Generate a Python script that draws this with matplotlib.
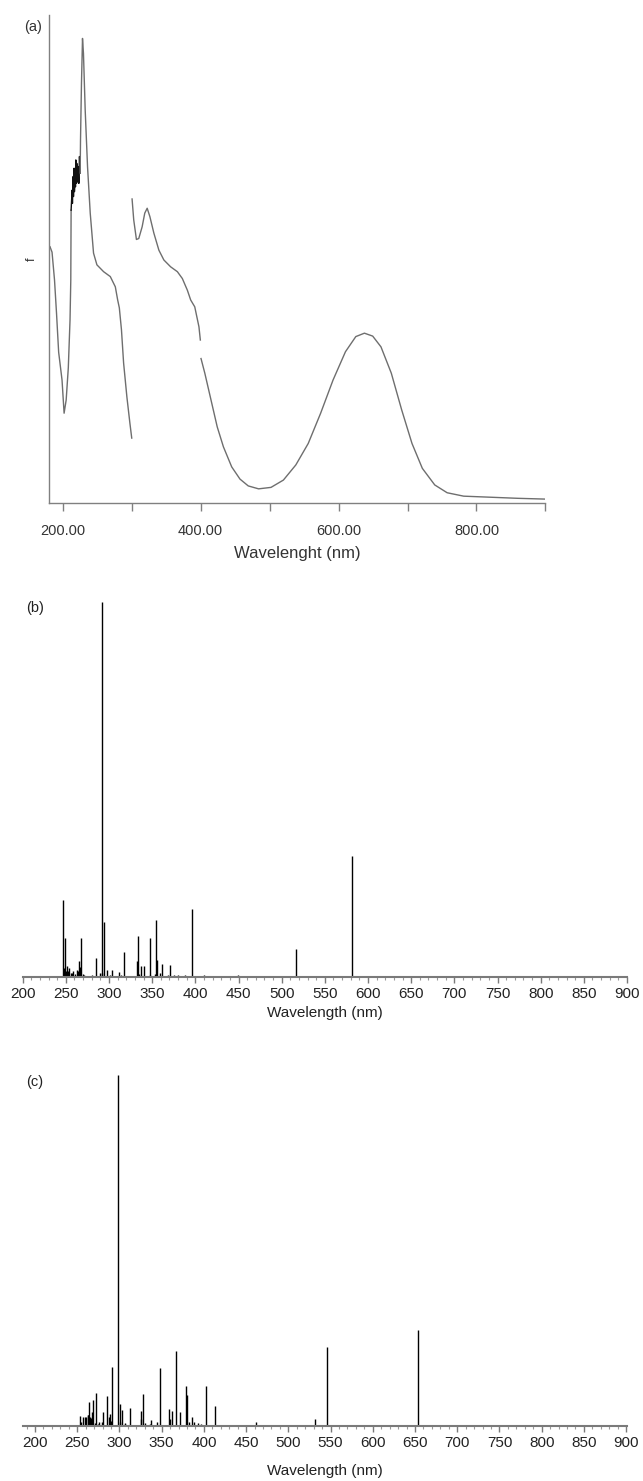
import numpy as np
import matplotlib
matplotlib.use("Agg")
import matplotlib.pyplot as plt
from matplotlib.ticker import MultipleLocator, FormatStrFormatter

plt.rcParams['font.family'] = ['Liberation Sans', 'DejaVu Sans']

W, H = 643, 1481

# (a) measured absorption spectrum, three pieces + noisy stretch
seg1_nm = [181.5, 184.4, 188.0, 190.9, 194.0, 198.9, 201.9, 204.9, 208.0, 210.5, 211.6, 212.07]
seg1_f = [0.525, 0.514, 0.457, 0.389, 0.309, 0.252, 0.184, 0.211, 0.277, 0.375, 0.457, 0.600]
noise_nm = [212.07, 213.5, 214.0, 215.0, 215.5, 216.4, 216.9, 217.9, 218.4, 218.9, 219.8,
            220.3, 221.3, 222.3, 223.3, 224.2, 225.2]
noise_f = [0.600, 0.641, 0.614, 0.669, 0.628, 0.686, 0.638, 0.676, 0.648, 0.703, 0.655,
           0.696, 0.658, 0.689, 0.655, 0.710, 0.676]
seg1b_nm = [225.2, 225.7, 227.1, 228.6, 230.0, 232.5, 235.9, 239.8, 244.6, 249.5, 259.2,
            268.9, 276.2, 279.6, 282.0, 285.1, 288.2, 293.0, 297.3, 300.0]
seg1b_f = [0.676, 0.744, 0.860, 0.952, 0.921, 0.805, 0.689, 0.594, 0.512, 0.488, 0.474,
           0.464, 0.443, 0.416, 0.400, 0.355, 0.287, 0.217, 0.164, 0.133]
seg2_nm = [300.5, 302.9, 306.8, 310.2, 315.1, 318.9, 322.4, 326.3, 332.1, 339.4, 346.6,
           356.4, 366.2, 373.4, 380.7, 385.5, 391.4, 397.5, 399.5]
seg2_f = [0.623, 0.580, 0.540, 0.542, 0.566, 0.594, 0.604, 0.587, 0.553, 0.518, 0.498,
          0.484, 0.474, 0.460, 0.436, 0.416, 0.402, 0.361, 0.334]
seg3_nm = [400.5, 406.0, 415.0, 424.0, 433.0, 445.0, 457.0, 469.0, 484.0, 502.0, 520.0,
           538.0, 556.0, 574.0, 592.0, 610.0, 625.0, 637.5, 649.5, 661.5, 676.5, 691.5,
           706.5, 721.5, 739.5, 757.5, 781.5, 817.5, 860.0, 900.0]
seg3_f = [0.296, 0.266, 0.211, 0.156, 0.115, 0.074, 0.049, 0.035, 0.029, 0.032, 0.047,
          0.078, 0.122, 0.184, 0.252, 0.310, 0.341, 0.348, 0.342, 0.320, 0.266, 0.191,
          0.122, 0.071, 0.037, 0.021, 0.014, 0.012, 0.0096, 0.008]

# (b) calculated transitions
b_nm = [247.0, 247.8, 249.3, 250.0, 251.6, 252.7, 254.0, 255.6, 257.1, 258.6, 260.2, 262.4,
        263.5, 265.5, 266.7, 267.8, 269.3, 270.8, 273.1, 278.6, 280.2, 281.7, 284.4, 289.8,
        291.3, 292.4, 293.6, 297.9, 301.3, 304.0, 308.6, 311.0, 314.4, 317.5, 324.1, 327.9,
        332.6, 333.7, 334.9, 337.6, 340.7, 347.3, 348.0, 353.4, 354.5, 355.7, 359.5, 361.5,
        368.8, 371.1, 375.7, 380.3, 388.0, 396.1, 408.0, 410.0, 449.3, 516.4, 581.0]
b_f = [0.206, 0.024, 0.104, 0.016, 0.030, 0.016, 0.024, 0.012, 0.011, 0.015, 0.009, 0.018,
       0.015, 0.044, 0.027, 0.105, 0.009, 0.006, 0.003, 0.004, 0.006, 0.004, 0.052, 0.012,
       1.000, 0.010, 0.148, 0.019, 0.005, 0.020, 0.004, 0.014, 0.005, 0.068, 0.004, 0.004,
       0.044, 0.110, 0.009, 0.030, 0.030, 0.005, 0.105, 0.009, 0.153, 0.046, 0.012, 0.036,
       0.006, 0.033, 0.006, 0.006, 0.006, 0.182, 0.004, 0.006, 0.006, 0.076, 0.324]

# (c) calculated transitions
c_nm = [253.8, 255.0, 257.3, 259.3, 260.9, 262.5, 263.3, 264.4, 265.6, 266.8, 268.0, 269.2,
        271.5, 272.7, 274.3, 276.3, 279.4, 281.0, 284.2, 285.8, 287.4, 289.0, 290.1, 291.7,
        294.9, 297.6, 298.8, 300.4, 301.2, 302.4, 306.0, 307.1, 311.9, 324.9, 326.0, 327.7,
        330.8, 336.0, 336.8, 345.0, 347.4, 358.5, 359.7, 361.7, 366.4, 371.1, 378.3, 379.4,
        381.8, 385.4, 387.7, 392.9, 396.0, 402.0, 412.6, 437.5, 461.3, 468.4, 531.2, 545.5,
        653.5]
c_f = [0.028, 0.011, 0.025, 0.025, 0.025, 0.030, 0.031, 0.068, 0.027, 0.024, 0.040, 0.074,
       0.008, 0.094, 0.005, 0.010, 0.010, 0.040, 0.003, 0.085, 0.027, 0.034, 0.015, 0.168,
       0.003, 0.003, 1.000, 0.010, 0.063, 0.046, 0.008, 0.006, 0.052, 0.044, 0.021, 0.091,
       0.009, 0.005, 0.017, 0.011, 0.165, 0.049, 0.021, 0.044, 0.214, 0.040, 0.114, 0.088,
       0.011, 0.027, 0.011, 0.009, 0.006, 0.114, 0.057, 0.003, 0.011, 0.003, 0.020, 0.225,
       0.273]


def box(x0, x1, ytop, ybot):
    return [x0 / W, 1 - ybot / H, (x1 - x0) / W, (ybot - ytop) / H]


fig = plt.figure(figsize=(W / 100, H / 100), dpi=100)

# ---------------- panel (a)
axa = fig.add_axes(box(49, 545.4, 15, 503))
gray = '#6e6e6e'
axa.plot(seg1_nm, seg1_f, color=gray, lw=1.0)
axa.plot(noise_nm, noise_f, color='#111111', lw=1.0)
axa.plot(seg1b_nm, seg1b_f, color=gray, lw=1.0)
axa.plot(seg2_nm, seg2_f, color=gray, lw=1.0)
axa.plot(seg3_nm, seg3_f, color=gray, lw=1.0)
axa.set_xlim(180, 900)
axa.set_ylim(0, 1)
for s in ['top', 'right']:
    axa.spines[s].set_visible(False)
for s in ['left', 'bottom']:
    axa.spines[s].set_color('#808080')
    axa.spines[s].set_linewidth(1.0)
axa.set_yticks([])
axa.xaxis.set_major_locator(MultipleLocator(200))
axa.xaxis.set_minor_locator(MultipleLocator(100))
axa.xaxis.set_major_formatter(FormatStrFormatter('%.2f'))
axa.tick_params(axis='x', which='both', direction='out', length=6, width=1.0,
                color='#808080', labelsize=10.5, labelcolor='#333333', pad=9)
axa.set_xlabel('Wavelenght (nm)', fontsize=12, color='#333333', labelpad=6)
axa.set_ylabel('f', fontsize=9, color='#333333', labelpad=8)
fig.text(33 / W, 1 - 27 / H, '(a)', fontsize=10.5, color='#333333', ha='center', va='center')

# ---------------- panels (b) and (c)
def sticks(ax, nm, f, xlim):
    ax.vlines(nm, 0, f, color='black', lw=1.0, clip_on=False)
    ax.set_xlim(*xlim)
    ax.set_ylim(0, 1)
    for s in ['top', 'right', 'left']:
        ax.spines[s].set_visible(False)
    ax.spines['bottom'].set_color('#7a7a7a')
    ax.spines['bottom'].set_linewidth(1.5)
    ax.set_yticks([])
    ax.xaxis.set_major_locator(MultipleLocator(50))
    ax.xaxis.set_minor_locator(MultipleLocator(10))
    ax.tick_params(axis='x', which='major', direction='out', length=4, width=1.0,
                   color='#7a7a7a', labelsize=11, labelcolor='#222222', pad=3)
    ax.tick_params(axis='x', which='minor', direction='out', length=2.5, width=0.8,
                   color='#9a9a9a')


axb = fig.add_axes(box(22.7, 627, 602, 977))
sticks(axb, b_nm, b_f, (200, 900))
axb.set_xlabel('Wavelength (nm)', fontsize=11, color='#222222', labelpad=4)
fig.text(35 / W, 1 - 608 / H, '(b)', fontsize=10.5, color='#222222', ha='center', va='center')

axc = fig.add_axes(box(22.7, 627, 1075, 1426))
sticks(axc, c_nm, c_f, (185.4, 901))
axc.set_xlabel('Wavelength (nm)', fontsize=11, color='#222222', labelpad=10)
fig.text(35 / W, 1 - 1082 / H, '(c)', fontsize=10.5, color='#222222', ha='center', va='center')

fig.savefig('out.png', dpi=100)
